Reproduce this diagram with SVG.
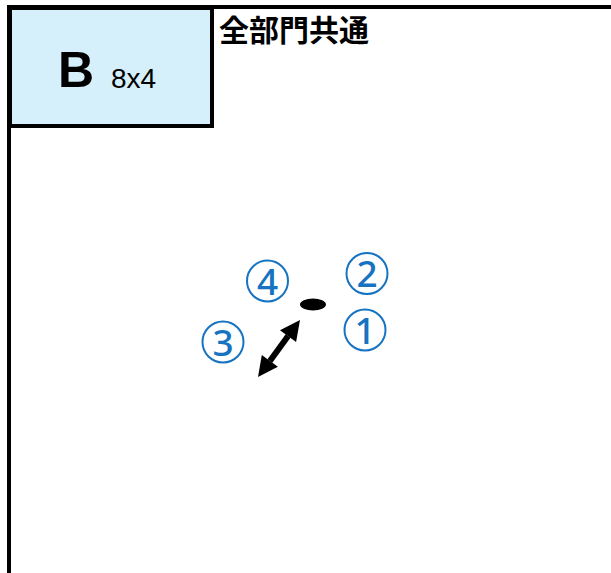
<svg xmlns="http://www.w3.org/2000/svg" width="611" height="573" viewBox="0 0 611 573">
<defs>
<style>
.ring{fill:none;stroke:#1673c1;stroke-width:2}
.dig{font-family:"Noto Sans","Liberation Sans",sans-serif;font-size:37px;font-weight:500;fill:#1673c1;text-anchor:middle}
</style>
</defs>
<rect width="611" height="573" fill="#fff"/>
<g id="room">
<path d="M9,575 L9,7 L613,7" fill="none" stroke="#000" stroke-width="4"/>
</g>
<g id="boxB">
<rect x="10" y="8" width="202" height="118" fill="#d5f0fb" stroke="#000" stroke-width="4"/>
<text x="58" y="87" font-family="Liberation Sans,Arial,sans-serif" font-weight="bold" font-size="50">B</text>
<text x="111" y="88" font-family="Liberation Sans,Arial,sans-serif" font-size="28">8x4</text>
</g>
<g id="title">
<text x="219" y="41" font-family="Noto Sans CJK JP,sans-serif" font-weight="bold" font-size="30">全部門共通</text>
</g>
<g id="n4"><circle class="ring" cx="267.5" cy="281" r="20.5"/><text class="dig" x="267.5" y="294.5">4</text></g>
<g id="n2"><circle class="ring" cx="367" cy="273.5" r="20.5"/><text class="dig" x="367" y="287">2</text></g>
<g id="n1"><circle class="ring" cx="365" cy="330" r="20.5"/><text class="dig" x="365" y="343.5">1</text></g>
<g id="n3"><circle class="ring" cx="223" cy="342" r="20.5"/><text class="dig" x="223" y="355.5">3</text></g>
<g id="spot"><ellipse cx="313" cy="304.5" rx="13" ry="6" fill="#000"/></g>
<g id="connectors">
<line x1="288.1" y1="336.1" x2="269.9" y2="360.9" stroke="#000" stroke-width="6"/>
<polygon points="300,320 296.1,342 280,330.2" fill="#000"/>
<polygon points="258,377 277.9,366.8 261.8,355" fill="#000"/>
</g>
</svg>
